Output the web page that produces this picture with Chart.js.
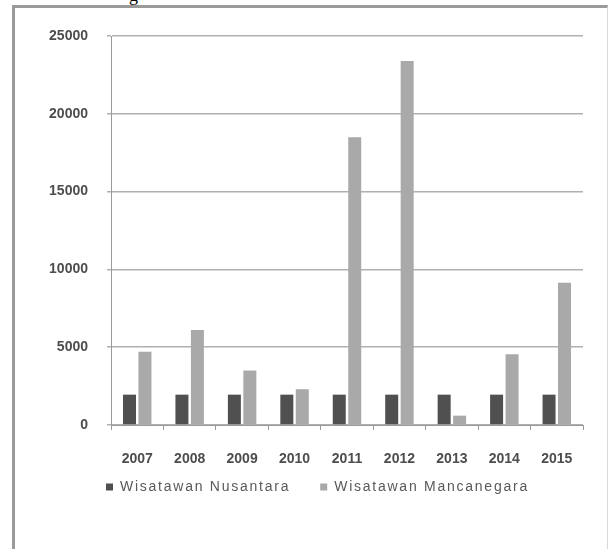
<!DOCTYPE html>
<html>
<head>
<meta charset="utf-8">
<script src="https://cdn.jsdelivr.net/npm/chart.js@4.4.1/dist/chart.umd.min.js"></script>
<style>
  html, body { margin: 0; padding: 0; background: #fff; overflow: hidden; }
  #wrap { position: relative; width: 608px; height: 549px; }
  #frame {
    position: absolute; left: 12px; top: 5px; width: 592px; height: 600px;
    border-left: 3px solid #9a9a9a; border-top: 3px solid #9a9a9a; border-right: 1px solid #d8d8d8;
  }
  #cut { position: absolute; left: 129px; top: -15px; font: 18px "Liberation Serif", serif; color: #000; }
  canvas { position: absolute; left: 0; top: 0; }
</style>
</head>
<body>
<div id="wrap">
  <div id="cut">g</div>
  <div id="frame"></div>
  <canvas id="bar-chart" width="608" height="549"></canvas>
</div>
<script>
const YEARS = ["2007", "2008", "2009", "2010", "2011", "2012", "2013", "2014", "2015"];
const NUSANTARA = [1950, 1950, 1950, 1950, 1950, 1950, 1950, 1950, 1950];
const MANCANEGARA = [4700, 6100, 3500, 2300, 18500, 23400, 600, 4550, 9150];
const Y_TICKS = [0, 5000, 10000, 15000, 20000, 25000];

// legend text in the picture is widely spaced
const spacedLegend = {
  id: "spacedLegend",
  afterInit(chart) {
    const legend = chart.legend;
    const fit = legend.fit.bind(legend);
    const draw = legend.draw.bind(legend);
    legend.fit = function () {
      chart.ctx.save();
      chart.ctx.letterSpacing = "1.75px";
      fit();
      chart.ctx.restore();
    };
    legend.draw = function () {
      chart.ctx.save();
      chart.ctx.letterSpacing = "1.75px";
      draw();
      chart.ctx.restore();
    };
  },
};

// axis boxes are squeezed, so let the tick labels draw outside them
const noLabelClip = (scale) => { scale._computeLabelArea = () => undefined; };

new Chart(document.getElementById("bar-chart"), {
  type: "bar",
  data: {
    labels: YEARS,
    datasets: [
      {
        label: "Wisatawan Nusantara",
        data: NUSANTARA,
        backgroundColor: "#505050",
        borderWidth: 0,
        categoryPercentage: 0.59,
        barPercentage: 0.84,
      },
      {
        label: "Wisatawan Mancanegara",
        data: MANCANEGARA,
        backgroundColor: "#a9a9a9",
        borderWidth: 0,
        categoryPercentage: 0.59,
        barPercentage: 0.84,
      },
    ],
  },
  options: {
    responsive: false,
    animation: false,
    layout: { padding: { left: 76, right: 25, top: 36, bottom: 45 } },
    plugins: {
      tooltip: { enabled: false },
      legend: {
        position: "bottom",
        align: "start",
        labels: {
          boxWidth: 7,
          boxHeight: 7,
          padding: 30,
          color: "#595959",
          font: { family: "Liberation Sans", size: 14 },
        },
      },
    },
    scales: {
      x: {
        afterFit: (scale) => { scale.height = 25; noLabelClip(scale); },
        grid: { drawOnChartArea: false, tickLength: 5, color: "#9a9a9a" },
        border: { color: "#9a9a9a" },
        ticks: {
          padding: 21,
          color: "#4d4d4d",
          font: { family: "Liberation Sans", size: 14, weight: "bold" },
        },
      },
      y: {
        min: 0,
        max: 25000,
        afterFit: (scale) => { scale.width = 35; noLabelClip(scale); },
        afterBuildTicks: (scale) => { scale.ticks = Y_TICKS.map((v) => ({ value: v })); },
        grid: { color: "#b0b0b0", lineWidth: 1.5, tickLength: 4 },
        border: { color: "#9a9a9a" },
        ticks: {
          padding: 19,
          color: "#4d4d4d",
          font: { family: "Liberation Sans", size: 14, weight: "bold" },
          callback: (value) => String(value),
        },
      },
    },
  },
  plugins: [spacedLegend],
});
</script>
</body>
</html>
